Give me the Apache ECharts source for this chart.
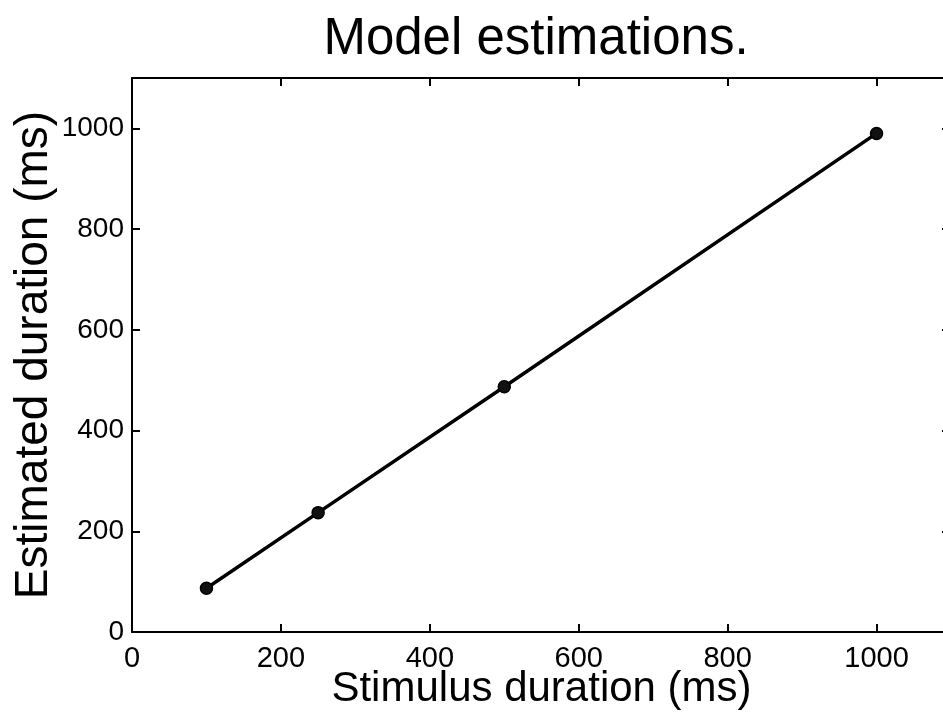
<!DOCTYPE html>
<html>
<head>
<meta charset="utf-8">
<script src="https://cdn.jsdelivr.net/npm/echarts@6/dist/echarts.min.js"></script>
<style>
html,body{margin:0;padding:0;background:#fff;}
#chart{width:943px;height:715px;}
</style>
</head>
<body>
<div id="chart"></div>
<script>
const titleText = "Model estimations.";
const xName = "Stimulus duration (ms)";
const yName = "Estimated duration (ms)";
const stimulus = [100, 250, 500, 1000];
const estimated = [87, 237, 487, 990];
const axisMin = 0, axisMax = 1100, tickStep = 200;

const FONT = "'Liberation Sans', Arial, Helvetica, sans-serif";
const chart = echarts.init(document.getElementById('chart'), null, {renderer: 'canvas'});

const hideMax = v => (v > 1000 ? '' : String(v));
const lineStyle = {color: '#000', width: 2};

const option = {
  backgroundColor: '#fff',
  animation: false,
  title: {
    text: titleText,
    left: 531, top: 9, textAlign: 'center',
    textStyle: {fontFamily: FONT, fontSize: 51, fontWeight: 'normal', color: '#000'}
  },
  grid: {left: 132, top: 78, right: -8, bottom: 83, containLabel: false, outerBoundsMode: 'none'},
  xAxis: [{
    type: 'value', min: axisMin, max: axisMax, interval: tickStep, position: 'bottom',
    name: xName, nameLocation: 'middle', nameGap: 36, nameMoveOverlap: false,
    nameTextStyle: {fontFamily: FONT, fontSize: 42, color: '#000', verticalAlign: 'top'},
    axisLine: {show: true, onZero: false, lineStyle},
    axisTick: {show: true, inside: true, length: 8, lineStyle},
    axisLabel: {fontFamily: FONT, fontSize: 29, color: '#000', margin: 12, formatter: hideMax, showMaxLabel: false},
    splitLine: {show: false}
  }, {
    type: 'value', min: axisMin, max: axisMax, interval: tickStep, position: 'top',
    axisLine: {show: true, onZero: false, lineStyle},
    axisTick: {show: true, inside: true, length: 8, lineStyle},
    axisLabel: {show: false}, splitLine: {show: false}
  }],
  yAxis: [{
    type: 'value', min: axisMin, max: axisMax, interval: tickStep, position: 'left',
    name: yName, nameLocation: 'middle', nameGap: 75, nameMoveOverlap: false,
    nameTextStyle: {fontFamily: FONT, fontSize: 46, color: '#000'},
    axisLine: {show: true, onZero: false, lineStyle},
    axisTick: {show: true, inside: true, length: 8, lineStyle},
    axisLabel: {fontFamily: FONT, fontSize: 28, color: '#000', margin: 8, formatter: hideMax, showMaxLabel: false},
    splitLine: {show: false}
  }, {
    type: 'value', min: axisMin, max: axisMax, interval: tickStep, position: 'right',
    axisLine: {show: true, onZero: false, lineStyle},
    axisTick: {show: true, inside: true, length: 9, lineStyle},
    axisLabel: {show: false}, splitLine: {show: false}
  }],
  series: [{
    type: 'line',
    xAxisIndex: 0, yAxisIndex: 0,
    data: stimulus.map((s, i) => [s, estimated[i]]),
    symbol: 'circle', symbolSize: 12,
    lineStyle: {color: '#000', width: 3.5},
    itemStyle: {color: '#111', borderColor: '#000', borderWidth: 1.5}
  }]
};
chart.setOption(option);
</script>
</body>
</html>
